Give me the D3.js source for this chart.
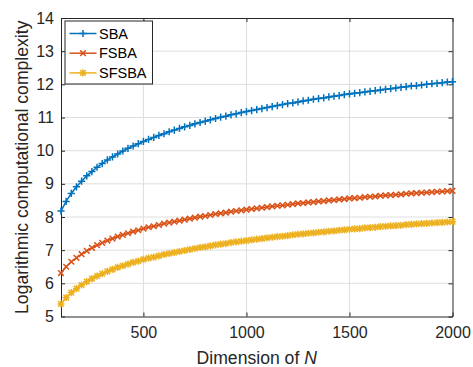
<!DOCTYPE html>
<html>
<head>
<meta charset="UTF-8">
<script src="https://d3js.org/d3.v7.min.js"></script>
<style>
  body { margin: 0; background: #fff; }
  svg { display: block; font-family: "Liberation Sans", Arial, Helvetica, sans-serif; }
  .grid line { stroke: #dedede; stroke-width: 1; }
  .tick-label { font-size: 16px; fill: #262626; }
</style>
</head>
<body>
<svg id="chart" width="473" height="367"></svg>
<script>
// dimension N (x values)
const dims = [100, 125, 150, 175, 200, 225, 250, 275, 300, 325, 350, 375, 400, 425, 450, 475,
  500, 525, 550, 575, 600, 625, 650, 675, 700, 725, 750, 775, 800, 825, 850, 875, 900, 925, 950, 975,
  1000, 1025, 1050, 1075, 1100, 1125, 1150, 1175, 1200, 1225, 1250, 1275, 1300, 1325, 1350, 1375, 1400, 1425, 1450, 1475,
  1500, 1525, 1550, 1575, 1600, 1625, 1650, 1675, 1700, 1725, 1750, 1775, 1800, 1825, 1850, 1875, 1900, 1925, 1950, 1975, 2000];

const sba = [8.18, 8.47, 8.71, 8.91, 9.08, 9.24, 9.37, 9.50, 9.61, 9.72, 9.81, 9.90, 9.99, 10.07, 10.14, 10.21,
  10.28, 10.34, 10.40, 10.46, 10.51, 10.57, 10.62, 10.67, 10.72, 10.76, 10.81, 10.85, 10.89, 10.93, 10.97, 11.01, 11.04, 11.08, 11.11, 11.15,
  11.18, 11.21, 11.24, 11.27, 11.30, 11.33, 11.36, 11.39, 11.42, 11.44, 11.47, 11.50, 11.52, 11.55, 11.57, 11.59, 11.62, 11.64, 11.66, 11.69,
  11.71, 11.73, 11.75, 11.77, 11.79, 11.81, 11.83, 11.85, 11.87, 11.89, 11.91, 11.93, 11.95, 11.96, 11.98, 12.00, 12.02, 12.03, 12.05, 12.07, 12.08];

const fsba = [6.31, 6.50, 6.65, 6.77, 6.88, 6.98, 7.07, 7.15, 7.22, 7.29, 7.35, 7.41, 7.46, 7.51, 7.56, 7.60,
  7.65, 7.69, 7.72, 7.76, 7.80, 7.83, 7.86, 7.89, 7.92, 7.95, 7.98, 8.01, 8.03, 8.06, 8.09, 8.11, 8.13, 8.16, 8.18, 8.20,
  8.22, 8.24, 8.26, 8.28, 8.30, 8.32, 8.34, 8.35, 8.37, 8.39, 8.41, 8.42, 8.44, 8.45, 8.47, 8.48, 8.50, 8.51, 8.53, 8.54,
  8.56, 8.57, 8.58, 8.60, 8.61, 8.62, 8.64, 8.65, 8.66, 8.67, 8.68, 8.70, 8.71, 8.72, 8.73, 8.74, 8.75, 8.76, 8.77, 8.78, 8.79];

const sfsba = [5.38, 5.57, 5.72, 5.84, 5.95, 6.05, 6.14, 6.22, 6.29, 6.36, 6.42, 6.48, 6.53, 6.58, 6.63, 6.67,
  6.72, 6.76, 6.79, 6.83, 6.87, 6.90, 6.93, 6.96, 6.99, 7.02, 7.05, 7.08, 7.10, 7.13, 7.16, 7.18, 7.20, 7.23, 7.25, 7.27,
  7.29, 7.31, 7.33, 7.35, 7.37, 7.39, 7.41, 7.42, 7.44, 7.46, 7.48, 7.49, 7.51, 7.52, 7.54, 7.55, 7.57, 7.58, 7.60, 7.61,
  7.63, 7.64, 7.65, 7.67, 7.68, 7.69, 7.71, 7.72, 7.73, 7.74, 7.75, 7.77, 7.78, 7.79, 7.80, 7.81, 7.82, 7.83, 7.84, 7.85, 7.86];

const seriesNames = ["SBA", "FSBA", "SFSBA"];
const seriesColors = ["#0072BD", "#D95319", "#EDB120"];
const seriesMarkers = ["plus", "cross", "star"];
const xTicks = [500, 1000, 1500, 2000];
const yTicks = [5, 6, 7, 8, 9, 10, 11, 12, 13, 14];

const series = [sba, fsba, sfsba].map((vals, i) => ({
  name: seriesNames[i],
  color: seriesColors[i],
  marker: seriesMarkers[i],
  points: dims.map((n, j) => ({ x: n, y: vals[j] }))
}));

const plotL = 61, plotR = 452.5, plotT = 18, plotB = 316.5;
const axisColor = "#262626";

const svg = d3.select("#chart");

const x = d3.scaleLinear().domain([100, 2000]).range([plotL, plotR]);
const y = d3.scaleLinear().domain([5, 14]).range([plotB, plotT]);

// grid
const grid = svg.append("g").attr("class", "grid");
grid.selectAll("line.gx")
  .data(xTicks.filter(t => t < 2000))
  .join("line")
  .attr("x1", d => x(d)).attr("x2", d => x(d))
  .attr("y1", plotT).attr("y2", plotB);
grid.selectAll("line.gy")
  .data(yTicks.filter(t => t > 5 && t < 14))
  .join("line")
  .attr("x1", plotL).attr("x2", plotR)
  .attr("y1", d => y(d)).attr("y2", d => y(d));

// axes (ticks inside, like MATLAB)
const xAxis = svg.append("g")
  .attr("transform", `translate(0,${plotB})`)
  .call(d3.axisBottom(x).tickValues(xTicks).tickFormat(d3.format("d"))
    .tickSizeInner(-4).tickSizeOuter(0).tickPadding(10));
const xAxisTop = svg.append("g")
  .attr("transform", `translate(0,${plotT})`)
  .call(d3.axisTop(x).tickValues(xTicks).tickSizeInner(-4).tickSizeOuter(0).tickFormat(""));
const yAxis = svg.append("g")
  .attr("transform", `translate(${plotL},0)`)
  .call(d3.axisLeft(y).tickValues(yTicks).tickFormat(d3.format("d"))
    .tickSizeInner(-4).tickSizeOuter(0).tickPadding(7));
const yAxisRight = svg.append("g")
  .attr("transform", `translate(${plotR},0)`)
  .call(d3.axisRight(y).tickValues(yTicks).tickSizeInner(-4).tickSizeOuter(0).tickFormat(""));

[xAxis, xAxisTop, yAxis, yAxisRight].forEach(g => {
  g.select(".domain").attr("stroke", axisColor).attr("stroke-width", 1);
  g.selectAll(".tick line").attr("stroke", axisColor);
  g.selectAll(".tick text").attr("class", "tick-label").attr("font-family", null).attr("font-size", null);
});
svg.selectAll("g[font-family]").attr("font-family", null);

// axis titles
svg.append("text")
  .attr("x", (plotL + plotR) / 2)
  .attr("y", 364)
  .attr("text-anchor", "middle")
  .attr("font-size", 17.6)
  .attr("fill", axisColor)
  .html('Dimension of <tspan font-style="italic">N</tspan>');

svg.append("text")
  .attr("transform", `translate(28,${(plotT + plotB) / 2}) rotate(-90)`)
  .attr("text-anchor", "middle")
  .attr("font-size", 17.6)
  .attr("fill", axisColor)
  .text("Logarithmic computational complexity");

// marker shapes
function markerPath(type) {
  const s = 3.6, d = 2.8;
  if (type === "plus") return `M${-s},0H${s}M0,${-s}V${s}`;
  if (type === "cross") return `M${-d},${-d}L${d},${d}M${-d},${d}L${d},${-d}`;
  return `M${-s},0H${s}M0,${-s}V${s}M${-d},${-d}L${d},${d}M${-d},${d}L${d},${-d}`;
}

const line = d3.line().x(d => x(d.x)).y(d => y(d.y));

const plot = svg.append("g");
series.forEach(s => {
  plot.append("path")
    .datum(s.points)
    .attr("fill", "none")
    .attr("stroke", s.color)
    .attr("stroke-width", 1.5)
    .attr("d", line);
  plot.append("g")
    .selectAll("path")
    .data(s.points)
    .join("path")
    .attr("transform", d => `translate(${x(d.x)},${y(d.y)})`)
    .attr("d", markerPath(s.marker))
    .attr("fill", "none")
    .attr("stroke", s.color)
    .attr("stroke-width", 1.5);
});

// legend
const lg = svg.append("g");
lg.append("rect")
  .attr("x", 65).attr("y", 21)
  .attr("width", 87.5).attr("height", 63)
  .attr("fill", "#fff")
  .attr("stroke", axisColor)
  .attr("stroke-width", 1);
series.forEach((s, i) => {
  const ly = 33.5 + i * 19.7;
  lg.append("line")
    .attr("x1", 69.5).attr("x2", 96.5)
    .attr("y1", ly).attr("y2", ly)
    .attr("stroke", s.color).attr("stroke-width", 1.5);
  lg.append("path")
    .attr("transform", `translate(83,${ly})`)
    .attr("d", markerPath(s.marker))
    .attr("fill", "none")
    .attr("stroke", s.color).attr("stroke-width", 1.5);
  lg.append("text")
    .attr("x", 99).attr("y", ly + 5.2)
    .attr("font-size", 14.5)
    .attr("fill", "#000")
    .text(s.name);
});
</script>
</body>
</html>
